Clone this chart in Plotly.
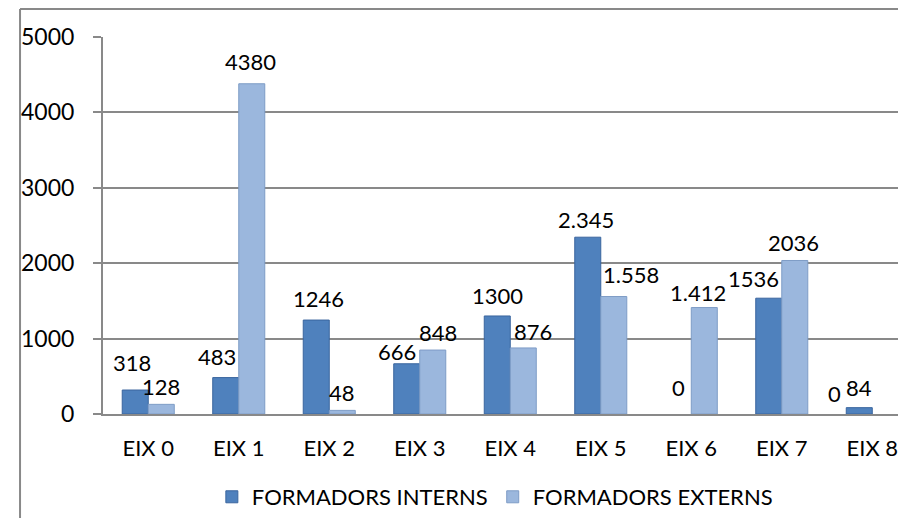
import plotly.graph_objects as go

# data
categories = ["EIX 0", "EIX 1", "EIX 2", "EIX 3", "EIX 4", "EIX 5", "EIX 6", "EIX 7", "EIX 8"]
interns = [318, 483, 1246, 666, 1300, 2345, 0, 1536, 84]
externs = [128, 4380, 48, 848, 876, 1558, 1412, 2036, 0]
interns_labels = ["318", "483", "1246", "666", "1300", "2.345", "0", "1536", "84"]
externs_labels = ["128", "4380", "48", "848", "876", "1.558", "1.412", "2036", "0"]
y_ticks = [0, 1000, 2000, 3000, 4000, 5000]

# label placement tweaks (px), mimicking the Excel layout: (dx, height of label centre above bar top)
interns_nudge = [(-3, 28), (-9, 21), (2, 22), (-10, 12), (0, 20), (-2, 18), (0, 27), (-15, 20), (0, 20)]
externs_nudge = [(0, 18), (-1, 22), (0, 18), (5, 18), (10, 16), (17, 22), (-6, 15), (-1, 18), (-51, 21)]

font_family = "Lato, Carlito, Calibri, sans-serif"
grey = "#898989"
bar_half = 13  # half of a bar's width in px, for placing labels

fig = go.Figure()

# no outline on empty bars
fig.add_trace(go.Bar(
    x=categories, y=interns, name="FORMADORS INTERNS",
    marker=dict(color="#4F81BD",
                line=dict(color="#3A659E", width=[0 if v == 0 else 1 for v in interns])),
))
fig.add_trace(go.Bar(
    x=categories, y=externs, name="FORMADORS EXTERNS",
    marker=dict(color="#9BB7DD",
                line=dict(color="#7E9CC6", width=[0 if v == 0 else 1 for v in externs])),
))

# data labels
for vals, labels, nudge, side in [(interns, interns_labels, interns_nudge, -1),
                                  (externs, externs_labels, externs_nudge, 1)]:
    for cat, v, t, (dx, up) in zip(categories, vals, labels, nudge):
        fig.add_annotation(
            x=cat, y=v, xref="x", yref="y", text=t, showarrow=False,
            xshift=side * bar_half + dx, yshift=up, yanchor="middle", xanchor="center",
            font=dict(size=22, color="black", family=font_family),
        )

fig.update_layout(
    width=906, height=518,
    margin=dict(l=95, r=0, t=29, b=112, autoexpand=False),
    paper_bgcolor="white", plot_bgcolor="white",
    barmode="group", bargap=0.425, bargroupgap=0,
    font=dict(family=font_family, size=22, color="black"),
    showlegend=True,
    legend=dict(orientation="h", xref="container", yref="container",
                x=0.225, xanchor="left", y=0.056, yanchor="middle",
                font=dict(size=22), itemwidth=30, tracegroupgap=0),
)

fig.update_xaxes(
    range=[-0.5, 8.461], showline=True, linecolor=grey, linewidth=2,
    showgrid=False, ticks="", ticklabelstandoff=14, automargin=False,
    tickfont=dict(size=22, color="black"),
)
fig.update_yaxes(
    range=[0, 5000], tickvals=y_ticks, showline=True, linecolor=grey, linewidth=2,
    showgrid=True, gridcolor=grey, gridwidth=2, zeroline=False,
    ticks="outside", ticklen=8, tickcolor=grey, tickwidth=2, ticklabelstandoff=14,
    automargin=False, tickfont=dict(size=23, color="black"),
)

# outer chart border (left and top edges, rest is cropped)
fig.add_shape(type="line", xref="paper", yref="paper", x0=-0.1023, x1=-0.1023, y0=1.0743, y1=-0.3,
              line=dict(color=grey, width=2))
fig.add_shape(type="line", xref="paper", yref="paper", x0=-0.1023, x1=1.01, y0=1.0743, y1=1.0743,
              line=dict(color=grey, width=2))

fig.write_html("out.html")
